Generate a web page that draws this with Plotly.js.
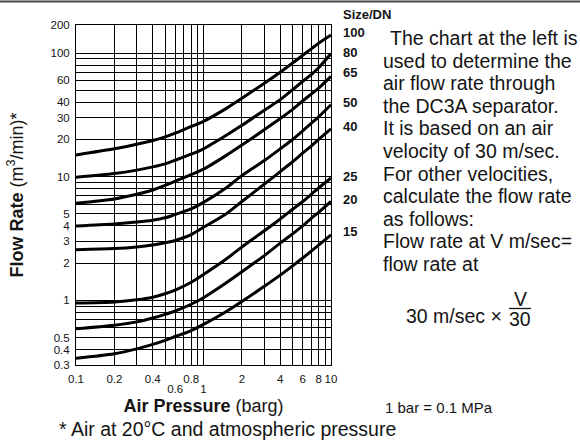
<!DOCTYPE html>
<html>
<head>
<meta charset="utf-8">
<script src="https://cdn.plot.ly/plotly-3.0.1.min.js"></script>
<style>html,body{margin:0;padding:0;background:#fff}#chart{width:580px;height:440px}</style>
</head>
<body>
<div id="chart"></div>
<script>
// ---- data ----
const pressure = [0.1, 0.2, 0.3, 0.4, 0.5, 0.6, 0.8, 1, 1.5, 2, 3, 4, 5, 6, 7, 8, 10];
const sizes = ['100', '80', '65', '50', '40', '25', '20', '15'];
const flow100 = [15, 16.8, 18.3, 19.6, 21, 22.5, 25.5, 28, 35.5, 43, 57, 70, 83, 96, 108, 120, 140];
const flow80  = [9.9, 10.6, 11.3, 12, 12.7, 13.6, 15.2, 16.8, 21.5, 26, 34.5, 42, 50.5, 59, 67, 76, 99];
const flow65  = [6.1, 6.6, 7.2, 7.8, 8.5, 9.2, 10.4, 11.5, 14.8, 18, 24, 29.5, 35, 41, 46.5, 52, 64.7];
const flow50  = [4.0, 4.15, 4.3, 4.45, 4.65, 4.95, 5.5, 6.2, 8.1, 10.2, 13.5, 16.8, 20, 23.5, 27, 30.5, 38.2];
const flow40  = [2.57, 2.62, 2.7, 2.8, 2.92, 3.05, 3.4, 3.9, 5.0, 6.3, 8.7, 11, 13.2, 15.5, 17.7, 20, 24.4];
const flow25  = [0.95, 0.97, 1.01, 1.06, 1.13, 1.21, 1.4, 1.62, 2.15, 2.7, 3.65, 4.55, 5.45, 6.3, 7.2, 8.1, 9.75];
const flow20  = [0.59, 0.63, 0.67, 0.72, 0.77, 0.82, 0.93, 1.05, 1.38, 1.7, 2.3, 2.9, 3.45, 4.0, 4.6, 5.15, 6.3];
const flow15  = [0.34, 0.37, 0.405, 0.44, 0.475, 0.51, 0.57, 0.64, 0.81, 0.98, 1.3, 1.6, 1.9, 2.2, 2.5, 2.8, 3.39];
const allFlows = [flow100, flow80, flow65, flow50, flow40, flow25, flow20, flow15];

// tick / grid values
const xTickVals = [0.1,0.2,0.3,0.4,0.5,0.6,0.7,0.8,0.9,1,2,3,4,5,6,7,8,9,10];
const xTickText = ['0.1','0.2','','0.4','','','','0.8','','','2','','4','','6','','8','','10'];
const xTickVals2 = [0.6, 1];
const xTickText2 = ['0.6', '1'];
const yTop = 168.5;
const yTickVals = [0.3,0.4,0.5,0.6,0.7,0.8,0.9,1,2,3,4,5,6,7,8,9,10,20,30,40,50,60,70,80,90,100,yTop];
const yTickText = ['0.3','0.4','0.5','','','','','1','2','3','4','5','','','','','10','20','30','40','','60','','','','100','200'];

const noteLines = [
  'The chart at the left is',
  'used to determine the',
  'air flow rate through',
  'the DC3A separator.',
  'It is based on an air',
  'velocity of 30 m/sec.',
  'For other velocities,',
  'calculate the flow rate',
  'as follows:',
  'Flow rate at V m/sec=',
  'flow rate at'
];

// ---- layout helpers (pixel -> paper) ----
const PL = 76, PR = 331, PT = 25, PB = 365;
const px = p => (p - PL) / (PR - PL);
const py = p => (PB - p) / (PB - PT);
const FONT = 'Liberation Sans, Arial, Helvetica, sans-serif';
const INK = '#141414';

const traces = allFlows.map((f, i) => ({
  x: pressure, y: f, type: 'scatter', mode: 'lines',
  line: {color: '#000', width: 3, shape: 'spline', smoothing: 0.8},
  name: sizes[i], showlegend: false, hoverinfo: 'skip'
}));
traces.push({x: xTickVals2, y: [null, null], xaxis: 'x2', yaxis: 'y', type: 'scatter', mode: 'lines', showlegend: false, hoverinfo: 'skip'});

const labelY = [32, 52, 72.7, 103, 126, 176.7, 199.7, 231.7];
const annotations = [];
annotations.push({xref:'paper', yref:'paper', x: px(341), y: py(14.5), xanchor:'left', yanchor:'middle', showarrow:false,
  text:'<b>Size/DN</b>', font:{family:FONT, size:13, color:INK}});
sizes.forEach((s, i) => annotations.push({xref:'paper', yref:'paper', x: px(341), y: py(labelY[i]), xanchor:'left', yanchor:'middle',
  showarrow:false, text:'<b>' + s + '</b>', font:{family:FONT, size:13, color:INK}}));
noteLines.forEach((t, i) => annotations.push({xref:'paper', yref:'paper', x: px(i === 0 ? 388 : 381), y: py(38 + i * 22.6), xanchor:'left', yanchor:'middle',
  showarrow:false, text:t, font:{family:FONT, size:19.5, color:INK}}));
annotations.push({xref:'paper', yref:'paper', x: px(504), y: py(316), xanchor:'right', yanchor:'middle', showarrow:false,
  text:'30 m/sec \u00d7', font:{family:FONT, size:19.5, color:INK}});
annotations.push({xref:'paper', yref:'paper', x: px(520), y: py(299), xanchor:'center', yanchor:'middle', showarrow:false,
  text:'V', font:{family:FONT, size:19.5, color:INK}});
annotations.push({xref:'paper', yref:'paper', x: px(520), y: py(319), xanchor:'center', yanchor:'middle', showarrow:false,
  text:'30', font:{family:FONT, size:19.5, color:INK}});
annotations.push({xref:'paper', yref:'paper', x: px(383), y: py(407), xanchor:'left', yanchor:'middle', showarrow:false,
  text:'1 bar = 0.1 MPa', font:{family:FONT, size:15, color:INK}});
annotations.push({xref:'paper', yref:'paper', x: px(57), y: py(429), xanchor:'left', yanchor:'middle', showarrow:false,
  text:'* Air at 20\u00b0C and atmospheric pressure', font:{family:FONT, size:19.5, color:INK}});

const layout = {
  width: 580, height: 440, autosize: false,
  margin: {l: PL, r: 580 - PR, t: PT, b: 440 - PB, pad: 0},
  paper_bgcolor: '#fff', plot_bgcolor: '#fff',
  font: {family: FONT, color: INK},
  xaxis: {
    type: 'log', range: [-1, 1], tickmode: 'array', tickvals: xTickVals, ticktext: xTickText,
    showgrid: true, gridcolor: '#000', gridwidth: 1, zeroline: false,
    showline: true, linecolor: '#000', linewidth: 1, mirror: true, ticks: '',
    tickfont: {family: FONT, size: 11.5, color: INK}, ticklabelstandoff: 3,
    title: {text: '<b>Air Pressure</b> (barg)', font: {family: FONT, size: 18, color: INK}, standoff: 15},
    automargin: false, fixedrange: true
  },
  xaxis2: {
    type: 'log', range: [-1, 1], overlaying: 'x', anchor: 'y', side: 'bottom',
    tickmode: 'array', tickvals: xTickVals2, ticktext: xTickText2,
    showgrid: false, zeroline: false, showline: false, ticks: '',
    tickfont: {family: FONT, size: 11.5, color: INK}, ticklabelstandoff: 15, automargin: false
  },
  yaxis: {
    type: 'log', range: [Math.log10(0.3), Math.log10(yTop)], tickmode: 'array', tickvals: yTickVals, ticktext: yTickText,
    showgrid: true, gridcolor: '#000', gridwidth: 1, zeroline: false,
    showline: true, linecolor: '#000', linewidth: 1, mirror: true, ticks: '',
    tickfont: {family: FONT, size: 11.5, color: INK}, ticklabelstandoff: 3,
    title: {text: '<b>Flow Rate</b> (m<sup>3</sup>/min)*', font: {family: FONT, size: 18, color: INK}, standoff: 22},
    automargin: false, fixedrange: true
  },
  shapes: [
    {type: 'line', xref: 'paper', yref: 'paper', x0: px(0), x1: px(580), y0: py(1.5), y1: py(1.5), line: {color: '#444', width: 2}},
    {type: 'line', xref: 'paper', yref: 'paper', x0: px(509), x1: px(531), y0: py(308.5), y1: py(308.5), line: {color: INK, width: 1.3}}
  ],
  annotations: annotations
};

Plotly.newPlot('chart', traces, layout, {staticPlot: true, displayModeBar: false});
</script>
</body>
</html>
